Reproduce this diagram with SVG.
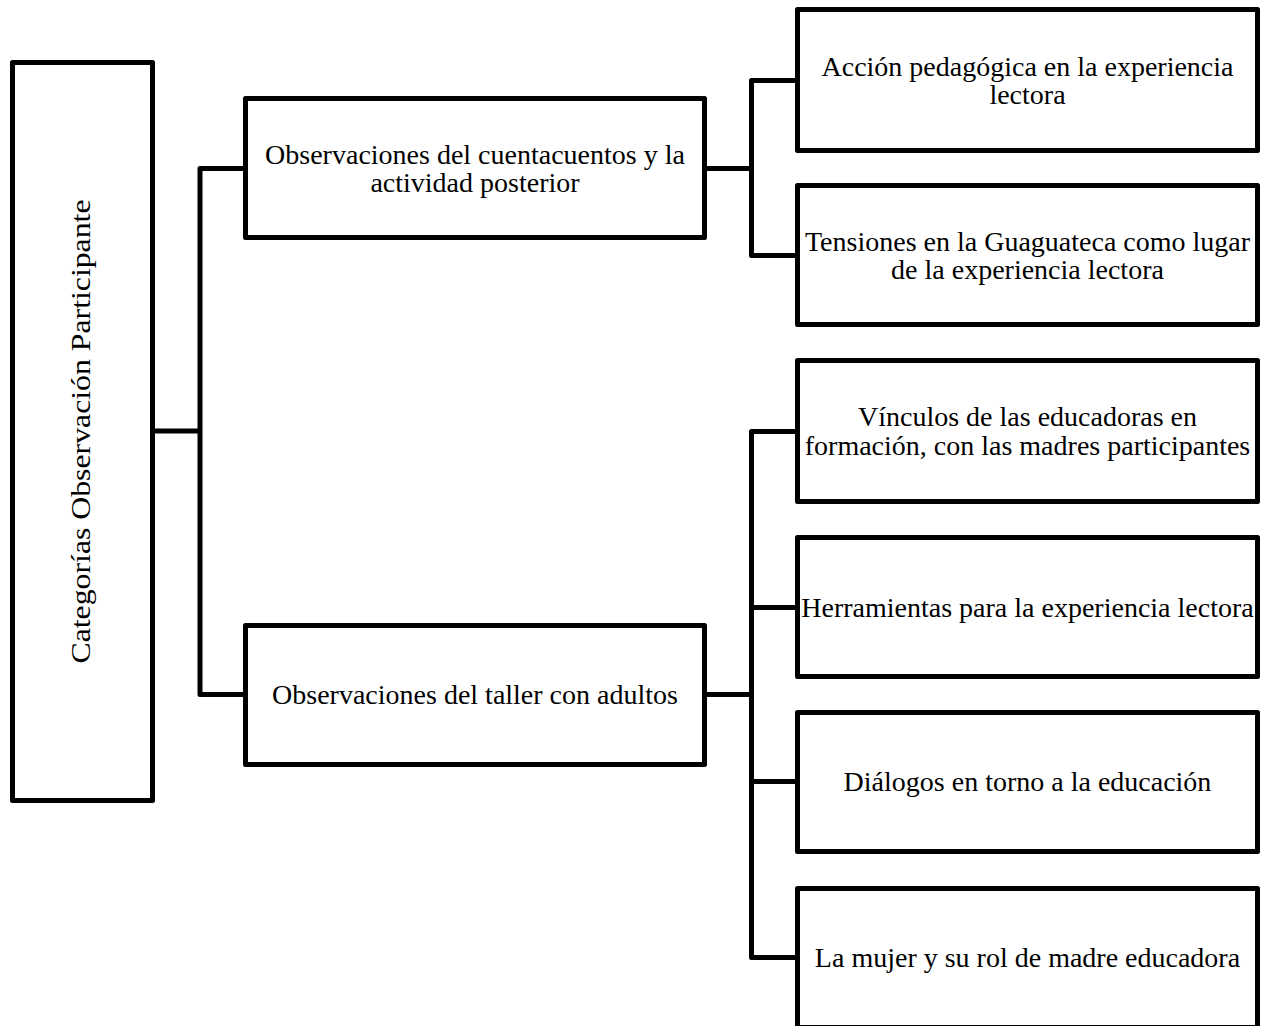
<svg xmlns="http://www.w3.org/2000/svg" width="1265" height="1026" viewBox="0 0 1265 1026">
<style>
.box{fill:#fff;stroke:#000;stroke-width:5;stroke-linejoin:round}
.conn{fill:none;stroke:#000;stroke-width:5;stroke-linejoin:round}
.t{font-family:"Liberation Serif","Times New Roman",serif;font-size:28px;fill:#000;text-anchor:middle}
</style>
<rect width="1265" height="1026" fill="#fff"/>
<g id="connectors">
<path class="conn" d="M152.5,431 H200 M245.5,168.5 H200 V694.5 H245.5"/>
<path class="conn" d="M704.5,168.5 H751.5 M797.5,80.5 H751.5 V255.5 H797.5"/>
<path class="conn" d="M704.5,694.5 H751.5 M797.5,431.5 H751.5 V957.5 H797.5 M751.5,607.5 H797.5 M751.5,781.5 H797.5"/>
</g>
<g id="root">
<rect class="box" x="12.5" y="62.5" width="140" height="738"/>
<text class="t" transform="translate(90,431.5) rotate(-90)" font-size="27" textLength="464" lengthAdjust="spacingAndGlyphs">Categorías Observación Participante</text>
</g>
<g id="n1">
<rect class="box" x="245.5" y="98.5" width="459" height="139"/>
<text class="t" x="475" y="164">Observaciones del cuentacuentos y la</text>
<text class="t" x="475" y="192">actividad posterior</text>
</g>
<g id="n2">
<rect class="box" x="245.5" y="625.5" width="459" height="139"/>
<text class="t" x="475" y="704">Observaciones del taller con adultos</text>
</g>
<g id="n1a">
<rect class="box" x="797.5" y="9.5" width="460" height="141"/>
<text class="t" x="1027.5" y="76">Acción pedagógica en la experiencia</text>
<text class="t" x="1027.5" y="104">lectora</text>
</g>
<g id="n1b">
<rect class="box" x="797.5" y="185.5" width="460" height="139"/>
<text class="t" x="1027.5" y="251">Tensiones en la Guaguateca como lugar</text>
<text class="t" x="1027.5" y="279">de la experiencia lectora</text>
</g>
<g id="n2a">
<rect class="box" x="797.5" y="360.5" width="460" height="141"/>
<text class="t" x="1027.5" y="426">Vínculos de las educadoras en</text>
<text class="t" x="1027.5" y="455">formación, con las madres participantes</text>
</g>
<g id="n2b">
<rect class="box" x="797.5" y="537.5" width="460" height="139"/>
<text class="t" x="1027.5" y="617">Herramientas para la experiencia lectora</text>
</g>
<g id="n2c">
<rect class="box" x="797.5" y="712.5" width="460" height="139"/>
<text class="t" x="1027.5" y="791">Diálogos en torno a la educación</text>
</g>
<g id="n2d">
<rect class="box" x="797.5" y="888.5" width="460" height="139"/>
<text class="t" x="1027.5" y="967">La mujer y su rol de madre educadora</text>
</g>
</svg>
